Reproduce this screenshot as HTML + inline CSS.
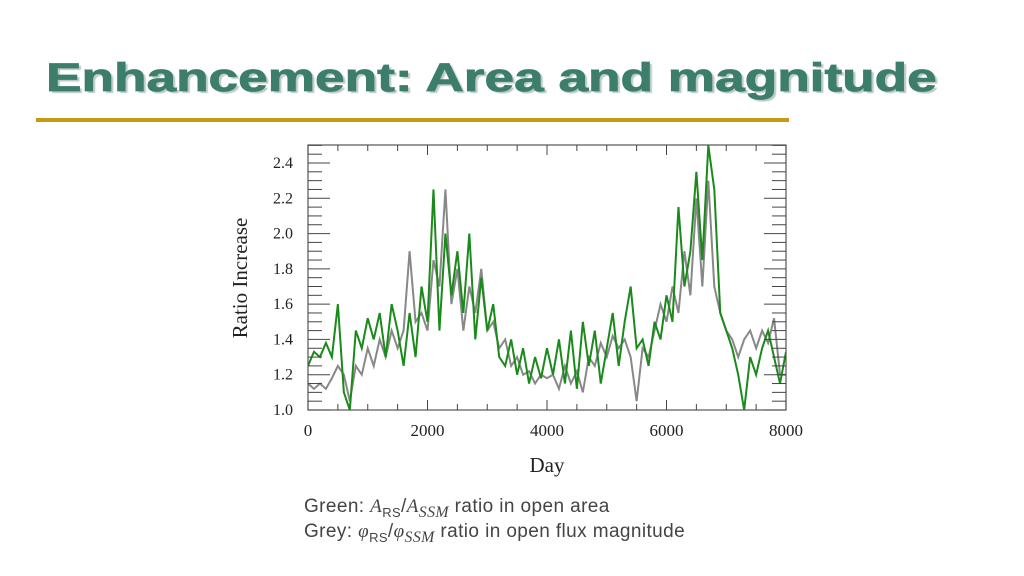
<!DOCTYPE html>
<html><head><meta charset="utf-8">
<style>
body{margin:0;width:1024px;height:576px;background:#fff;overflow:hidden;position:relative;font-family:"Liberation Sans",sans-serif}
#title{position:absolute;left:46px;top:56px;font-size:40px;font-weight:900;color:#3d7d6c;text-shadow:2px 2px 1px #b9c9c4;transform:scaleX(1.33);transform-origin:0 0;white-space:nowrap;-webkit-text-stroke:0.8px #3d7d6c}
#rule{position:absolute;left:36px;top:118px;width:753px;height:4px;background:#c39a12}
.cap{position:absolute;left:304px;font-size:19px;color:#444;letter-spacing:0.4px}
</style></head><body>
<div id="title">Enhancement: Area and magnitude</div>
<div id="rule"></div>
<svg id="chart" width="1024" height="576" style="position:absolute;left:0;top:0"></svg>
<div class="cap" style="top:496px">Green: <i style="font-family:'Liberation Serif',serif">A</i><sub style="font-size:13px">RS</sub>/<i style="font-family:'Liberation Serif',serif">A<sub>SSM</sub></i> ratio in open area</div>
<div class="cap" style="top:521px">Grey: <i style="font-family:'Liberation Serif',serif">φ</i><sub style="font-size:13px">RS</sub>/<i style="font-family:'Liberation Serif',serif">φ<sub>SSM</sub></i> ratio in open flux magnitude</div>
<script>
const days=[];for(let d=0;d<=8000;d+=100)days.push(d);
const greenVals=[1.25,1.33,1.30,1.38,1.30,1.60,1.10,1.00,1.45,1.35,1.52,1.40,1.55,1.30,1.60,1.45,1.25,1.55,1.30,1.70,1.50,2.25,1.45,2.00,1.65,1.90,1.55,2.00,1.40,1.75,1.45,1.60,1.30,1.25,1.40,1.20,1.35,1.15,1.30,1.18,1.35,1.20,1.40,1.15,1.45,1.12,1.50,1.25,1.45,1.15,1.35,1.55,1.25,1.50,1.70,1.35,1.40,1.25,1.50,1.40,1.65,1.50,2.15,1.70,1.90,2.35,1.85,2.50,2.25,1.55,1.45,1.35,1.20,1.00,1.30,1.20,1.35,1.45,1.30,1.15,1.33];
const greyVals=[1.15,1.12,1.15,1.12,1.18,1.25,1.20,1.05,1.25,1.20,1.35,1.25,1.40,1.30,1.45,1.35,1.45,1.90,1.50,1.55,1.45,1.85,1.70,2.25,1.60,1.80,1.45,1.70,1.55,1.80,1.45,1.50,1.35,1.40,1.25,1.30,1.20,1.22,1.15,1.20,1.18,1.20,1.12,1.25,1.15,1.22,1.10,1.30,1.25,1.38,1.30,1.42,1.35,1.40,1.30,1.05,1.35,1.30,1.45,1.60,1.50,1.70,1.55,1.90,1.65,2.20,1.70,2.30,1.70,1.55,1.45,1.40,1.30,1.40,1.45,1.35,1.45,1.38,1.52,1.20,1.20];
const yTicks=["1.0","1.2","1.4","1.6","1.8","2.0","2.2","2.4"];
const xTicks=["0","2000","4000","6000","8000"];
const L=308,R=786,T=145,B=410;
const X=d=>L+(d/8000)*(R-L);
const Y=v=>B-(v-1)*(247/1.4);
const ns="http://www.w3.org/2000/svg",svg=document.getElementById('chart');
function mk(t,a,p){const e=document.createElementNS(ns,t);for(const k in a)e.setAttribute(k,a[k]);(p||svg).appendChild(e);return e;}
const g=mk('g',{});


const cl=mk('clipPath',{id:'c'});mk('rect',{x:L,y:T,width:R-L,height:B-T},cl);
function line(vals,color,name){
 const p=mk('polyline',{points:vals.map((v,i)=>X(days[i])+','+Y(v)).join(' '),fill:'none',stroke:color,'stroke-width':2,'clip-path':'url(#c)'},g);
 
 
}
line(greyVals,'#888','grey-flux-series');
line(greenVals,'#1a8a1a','green-area-series');
const fr=mk('rect',{x:L,y:T,width:R-L,height:B-T,fill:'none',stroke:'#555','stroke-width':1.2});


for(let v=1;v<=2.5001;v+=0.05){const y=Y(v);const maj=Math.abs((v*5)-Math.round(v*5))<0.01;const w=maj?22:14;
 mk('line',{x1:L,x2:L+w,y1:y,y2:y,stroke:'#444','stroke-width':1});mk('line',{x1:R-w,x2:R,y1:y,y2:y,stroke:'#444','stroke-width':1});}
for(let d=0;d<=8000;d+=500){const x=X(d);const maj=d%2000==0;const w=maj?10:6;
 mk('line',{x1:x,x2:x,y1:B,y2:B-w,stroke:'#444'});mk('line',{x1:x,x2:x,y1:T,y2:T+w,stroke:'#444'});}
yTicks.forEach(t=>{const e=mk('text',{x:293,y:Y(+t)+5,'text-anchor':'end','font-family':'Liberation Serif,serif','font-size':16,fill:'#222'});e.textContent=t;
 });
xTicks.forEach(t=>{const e=mk('text',{x:X(+t),y:436,'text-anchor':'middle','font-family':'Liberation Serif,serif','font-size':17,fill:'#222'});e.textContent=t;
 });
const xt=mk('text',{x:547,y:472,'text-anchor':'middle','font-family':'Liberation Serif,serif','font-size':21,fill:'#222'});xt.textContent='Day';

const yt=mk('text',{x:247,y:278,'text-anchor':'middle','font-family':'Liberation Serif,serif','font-size':21,fill:'#222',transform:'rotate(-90 247 278)'});yt.textContent='Ratio Increase';

</script>
</body></html>
